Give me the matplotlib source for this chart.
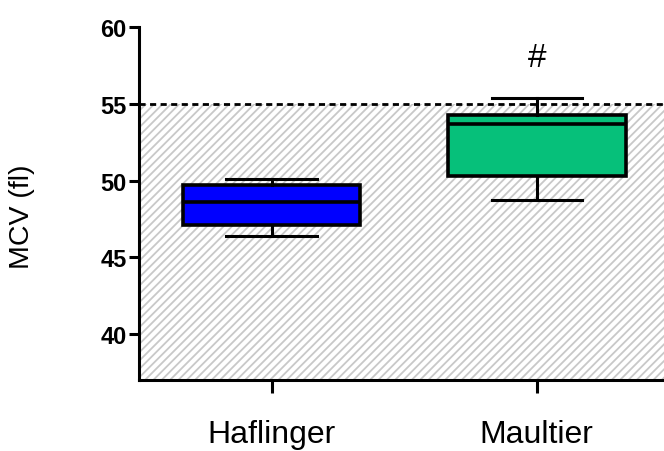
import matplotlib
matplotlib.use("Agg")
import matplotlib.pyplot as plt

# box plot summary per group: whisker low, Q1, median, Q3, whisker high
groups = ["Haflinger", "Maultier"]
whis_lo = [46.4, 48.7]
q1 = [47.1, 50.3]
medians = [48.6, 53.7]
q3 = [49.7, 54.25]
whis_hi = [50.1, 55.4]
box_colors = ["#0000ff", "#06c07a"]
ref_limit = 55  # upper reference value
marks = ["", "#"]

plt.rcParams["font.family"] = ["Liberation Sans", "DejaVu Sans"]
plt.rcParams["hatch.linewidth"] = 1.3

fig = plt.figure(figsize=(6.64, 4.52), dpi=100)
ax = fig.add_axes([0.2093, 0.157, 0.7907, 0.781])

# shaded reference band below the limit
ax.axhspan(30, ref_limit, facecolor="white", edgecolor="#c8c8c8",
           hatch="////", linewidth=0, zorder=0)
ax.axhline(ref_limit, color="black", linestyle=(0, (2.2, 1.6)), linewidth=2, zorder=1)

stats = []
for i, name in enumerate(groups):
    stats.append({"label": name, "whislo": whis_lo[i], "q1": q1[i],
                  "med": medians[i], "q3": q3[i], "whishi": whis_hi[i]})

bp = ax.bxp(stats, positions=[1, 2], widths=0.67, patch_artist=True,
            showfliers=False, capwidths=0.34,
            boxprops=dict(linewidth=2.6, edgecolor="black"),
            medianprops=dict(color="black", linewidth=2.6),
            whiskerprops=dict(color="black", linewidth=2.2),
            capprops=dict(color="black", linewidth=2.2))
for patch, c in zip(bp["boxes"], box_colors):
    patch.set_facecolor(c)
    patch.set_zorder(2)

for i, m in enumerate(marks):
    if m:
        ax.text(i + 1, whis_hi[i] + 2.6, m, ha="center", va="center", fontsize=24)

ax.set_xlim(0.5, 2.48)
ax.set_ylim(37, 60)
ax.set_yticks([40, 45, 50, 55, 60])
ax.set_ylabel("MCV (fl)", fontsize=20.5)
ax.yaxis.set_label_coords(-0.198, 0.465)

ax.spines["top"].set_visible(False)
ax.spines["right"].set_visible(False)
ax.spines["left"].set_linewidth(2.2)
ax.spines["bottom"].set_linewidth(2.2)
ax.tick_params(axis="y", length=7, width=2.2, labelsize=17, pad=2)
ax.tick_params(axis="x", length=9, width=2.2, labelsize=23, pad=19)
for lbl in ax.get_yticklabels():
    lbl.set_fontweight("bold")

fig.savefig("out.png", dpi=100)
